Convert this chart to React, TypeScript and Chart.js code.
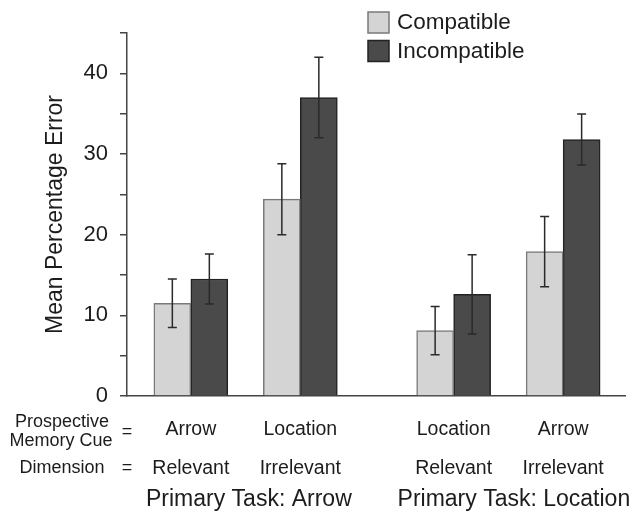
import React, { useEffect, useRef } from 'react';
import { Chart, registerables } from 'chart.js';

Chart.register(...registerables);

// ---- data ----
const groupPositions = [1, 2, 3.4, 4.4];
const cueLabels = ['Arrow', 'Location', 'Location', 'Arrow'];
const dimensionLabels = ['Relevant', 'Irrelevant', 'Relevant', 'Irrelevant'];
const taskPositions = [1.53, 3.95];
const taskLabels = ['Primary Task: Arrow', 'Primary Task: Location'];
const seriesNames = ['Compatible', 'Incompatible'];
const compatibleMeans = [11.5, 24.4, 8.1, 17.9];
const compatibleErrors = [3.0, 4.4, 3.0, 4.35];
const incompatibleMeans = [14.5, 37.0, 12.6, 31.8];
const incompatibleErrors = [3.1, 5.0, 4.9, 3.15];
const rowHeaderCue = ['Prospective', 'Memory Cue'];
const rowHeaderDim = ['Dimension'];
const yTitle = 'Mean Percentage Error';

const FONT = "'Liberation Sans', Arial, Helvetica, sans-serif";
const TEXT = '#1c1c1c';
const AXIS = '#444';

const errorBarPlugin = {
  id: 'errorBars',
  afterDatasetsDraw(chart: any) {
    const { ctx } = chart;
    const ys = chart.scales.y;
    chart.data.datasets.forEach((ds: any, i: number) => {
      const meta = chart.getDatasetMeta(i);
      meta.data.forEach((bar: any, j: number) => {
        const v = ds.data[j].y;
        const e = ds.errors[j];
        const top = ys.getPixelForValue(v + e);
        const bot = ys.getPixelForValue(v - e);
        ctx.save();
        ctx.strokeStyle = '#2a2a2a';
        ctx.lineWidth = 1.5;
        ctx.beginPath();
        ctx.moveTo(bar.x, top);
        ctx.lineTo(bar.x, bot);
        ctx.moveTo(bar.x - 4.5, top);
        ctx.lineTo(bar.x + 4.5, top);
        ctx.moveTo(bar.x - 4.5, bot);
        ctx.lineTo(bar.x + 4.5, bot);
        ctx.stroke();
        ctx.restore();
      });
    });
  },
};

const legendPlugin = {
  id: 'boxLegend',
  afterDraw(chart: any) {
    const { ctx } = chart;
    chart.data.datasets.forEach((ds: any, i: number) => {
      const bx = 368;
      const by = 12 + i * 28.5;
      ctx.save();
      ctx.fillStyle = ds.backgroundColor;
      ctx.fillRect(bx, by, 21, 21);
      ctx.strokeStyle = ds.borderColor;
      ctx.lineWidth = 1.5;
      ctx.strokeRect(bx, by, 21, 21);
      ctx.fillStyle = TEXT;
      ctx.font = `22.5px ${FONT}`;
      ctx.textAlign = 'left';
      ctx.textBaseline = 'middle';
      ctx.fillText(ds.label, 397, by + 11);
      ctx.restore();
    });
  },
};

const rowHeaderPlugin = {
  id: 'rowHeaders',
  afterDraw(chart: any) {
    const { ctx } = chart;
    ctx.save();
    ctx.fillStyle = TEXT;
    ctx.font = `18px ${FONT}`;
    ctx.textBaseline = 'middle';
    ctx.textAlign = 'center';
    ctx.fillText(rowHeaderCue[0], 62, 422);
    ctx.fillText(rowHeaderCue[1], 61, 441.5);
    ctx.fillText('=', 127, 432);
    ctx.fillText(rowHeaderDim[0], 62, 468.5);
    ctx.fillText('=', 127, 468.5);
    ctx.restore();
  },
};

export default function App() {
  const ref = useRef<HTMLCanvasElement>(null);

  useEffect(() => {
    if (!ref.current) return;
    Chart.defaults.font.family = FONT;
    const chart = new Chart(ref.current, {
      type: 'bar',
      data: {
        datasets: [
          {
            label: seriesNames[0],
            data: groupPositions.map((x, i) => ({ x, y: compatibleMeans[i] })),
            errors: compatibleErrors,
            backgroundColor: '#d4d4d4',
            borderColor: '#7a7a7a',
            borderWidth: 1.5,
            barThickness: 37,
          } as any,
          {
            label: seriesNames[1],
            data: groupPositions.map((x, i) => ({ x, y: incompatibleMeans[i] })),
            errors: incompatibleErrors,
            backgroundColor: '#4a4a4a',
            borderColor: '#222222',
            borderWidth: 1.5,
            barThickness: 37,
          } as any,
        ],
      },
      options: {
        responsive: false,
        animation: false,
        layout: { padding: { left: 0, right: 9, top: 33, bottom: 0 } },
        plugins: {
          legend: { display: false },
          tooltip: { enabled: false },
        },
        scales: {
          x: {
            type: 'linear',
            position: 'bottom',
            weight: 0,
            min: 0.417,
            max: 4.965,
            offset: false,
            grid: { display: false, drawTicks: false },
            border: { display: true, color: AXIS, width: 1.5 },
            afterBuildTicks: (s: any) => {
              s.ticks = groupPositions.map((v) => ({ value: v }));
            },
            afterFit: (s: any) => {
              s.height = 90;
            },
            ticks: {
              autoSkip: false,
              maxRotation: 0,
              minRotation: 0,
              padding: 14,
              color: TEXT,
              font: { size: 19.5, lineHeight: 2.0 },
              callback: (_v: any, i: number) => [cueLabels[i], dimensionLabels[i]],
            },
          },
          x2: {
            type: 'linear',
            position: 'bottom',
            weight: 1,
            min: 0.417,
            max: 4.965,
            offset: false,
            grid: { display: false, drawTicks: false },
            border: { display: false },
            afterBuildTicks: (s: any) => {
              s.ticks = taskPositions.map((v) => ({ value: v }));
            },
            afterFit: (s: any) => {
              s.height = 26;
            },
            ticks: {
              autoSkip: false,
              maxRotation: 0,
              minRotation: 0,
              padding: 0,
              color: TEXT,
              font: { size: 23 },
              callback: (_v: any, i: number) => taskLabels[i],
            },
          },
          y: {
            type: 'linear',
            min: 0,
            max: 45,
            afterFit: (s: any) => {
              s.width = 127;
            },
            grid: {
              display: true,
              drawOnChartArea: false,
              drawTicks: true,
              tickLength: 7,
              color: AXIS,
              lineWidth: 1.5,
            },
            border: { display: true, color: AXIS, width: 1.5 },
            ticks: {
              stepSize: 5,
              padding: 12,
              color: TEXT,
              font: { size: 22 },
              callback: (v: any) => (Number(v) % 10 === 0 ? String(v) : ''),
            },
            title: {
              display: true,
              text: yTitle,
              color: TEXT,
              font: { size: 23 },
              padding: { top: 42, bottom: 0 },
            },
          },
        },
      } as any,
      plugins: [errorBarPlugin, legendPlugin, rowHeaderPlugin],
    });
    return () => chart.destroy();
  }, []);

  return (
    <div style={{ position: 'absolute', left: 0, top: 0, width: 634, height: 512, background: '#fff' }}>
      <canvas ref={ref} width={634} height={512} style={{ display: 'block' }} />
    </div>
  );
}
